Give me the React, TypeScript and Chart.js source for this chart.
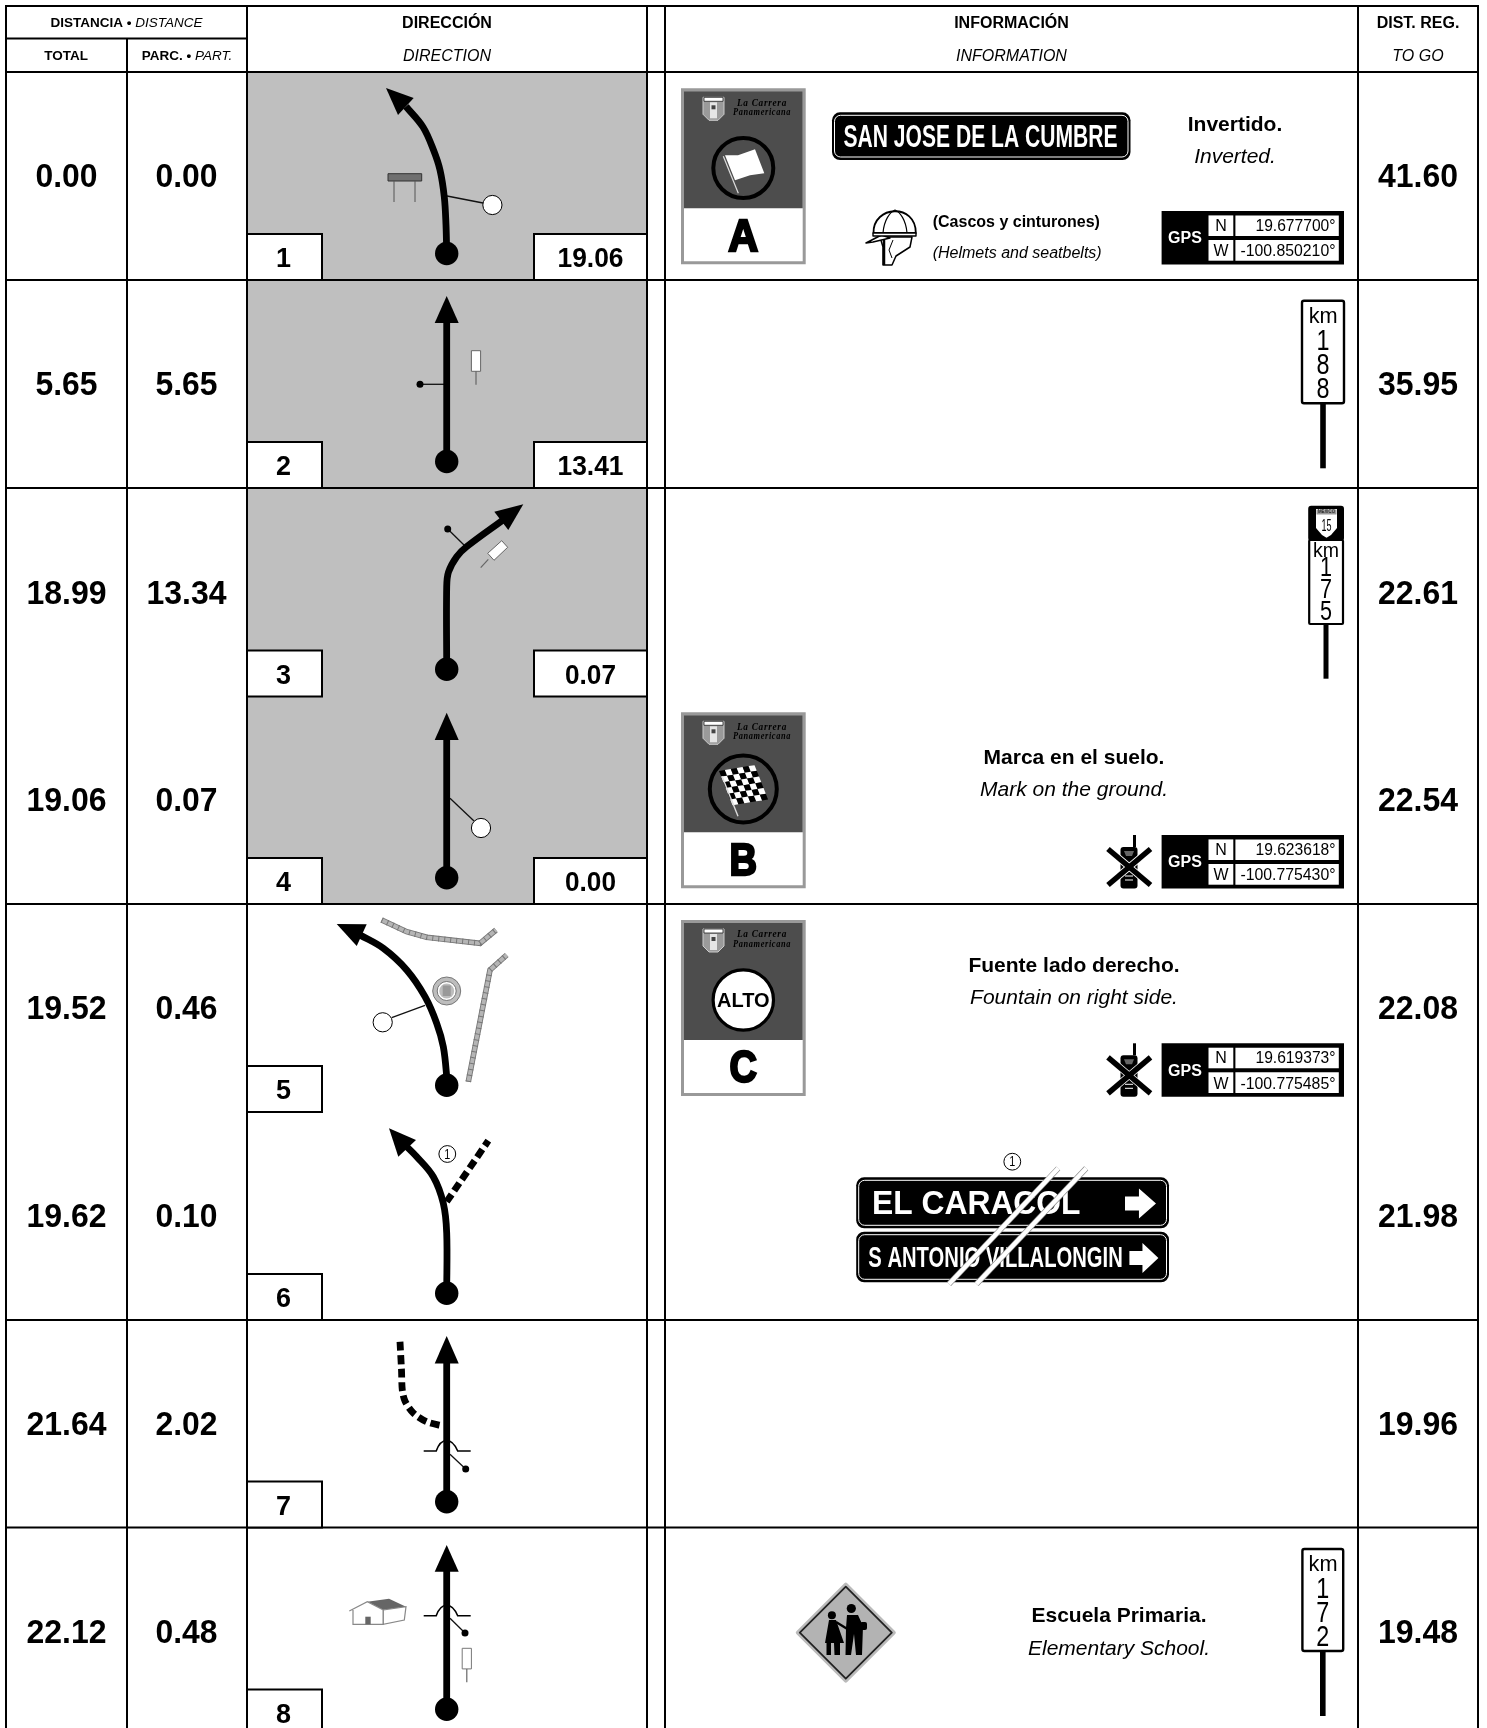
import React, { useEffect, useRef } from "react";
import { Chart, registerables } from "chart.js";

Chart.register(...registerables);

const SANS = '"Liberation Sans", Arial, sans-serif';

// ---------- table content ----------
const totals = [0.0, 5.65, 18.99, 19.06, 19.52, 19.62, 21.64, 22.12];
const partials = [0.0, 5.65, 13.34, 0.07, 0.46, 0.1, 2.02, 0.48];
const toGo = [41.6, 35.95, 22.61, 22.54, 22.08, 21.98, 19.96, 19.48];
const nextDistances = [19.06, 13.41, 0.07, 0.0];
const columnEdges = [6, 127, 247, 647, 665, 1358, 1478];
const rowBottoms = [280, 488, 696.5, 904, 1112, 1320, 1527.5, 1735.5];

// ---------- route diagrams (scale units) ----------
const routeStarts = [
  { x: 446.7, y: 253.5 }, { x: 446.7, y: 461.5 }, { x: 446.7, y: 669.3 }, { x: 446.7, y: 877.7 },
  { x: 446.7, y: 1085.3 }, { x: 446.7, y: 1293.3 }, { x: 446.7, y: 1501.7 }, { x: 446.7, y: 1709.3 },
];
const routePaths = [
  [[446.7, 253.5], [446, 225], [444.3, 197], [440, 170], [433.5, 150], [423, 127], [406, 106.5]],
  [[446.7, 461.5], [446.7, 322]],
  [[446.7, 669.3], [446.7, 586.7], [448.5, 572], [456.7, 556.7], [466.7, 546.7], [503, 520]],
  [[446.7, 877.7], [446.7, 739]],
  [[446.7, 1085.3], [446.7, 1076.7], [443.3, 1046.7], [436.7, 1023.3], [425, 996.7], [406.7, 970], [383.3, 948.3], [360, 935]],
  [[446.7, 1293.3], [446.7, 1233], [443.3, 1203.3], [433.3, 1176.7], [416.7, 1156.7], [403.3, 1143.3]],
  [[446.7, 1501.7], [446.7, 1362]],
  [[446.7, 1709.3], [446.7, 1570]],
];
const arrowHeads = [
  [[386, 88], [413.7, 98], [398, 115]],
  [[446.7, 296], [458.7, 323], [434.7, 323]],
  [[523.3, 504.3], [494.3, 511.7], [508.3, 530]],
  [[446.7, 712.7], [458.7, 740], [434.7, 740]],
  [[336.7, 924], [366.7, 924.3], [356.7, 946]],
  [[389, 1128.3], [416, 1140], [398.3, 1156.7]],
  [[446.7, 1336], [458.7, 1363.5], [434.7, 1363.5]],
  [[446.7, 1545], [458.7, 1571.7], [434.7, 1571.7]],
];
const dashedPaths = [
  [[446.7, 1201.7], [488.3, 1140.7]],
  [[400, 1341.7], [401.5, 1370], [402.3, 1390], [405, 1401], [413.3, 1413], [426.7, 1421.7], [443.3, 1426]],
];
const curbPaths = [
  [[381.7, 920], [406.7, 931.7], [426.7, 937.3], [480, 943.3], [496, 930]],
  [[468.3, 1081.7], [490, 970], [506.7, 955]],
];
const connectors = [
  [[447, 196], [483, 203]],
  [[420, 384.3], [444, 384.3]],
  [[447.7, 529], [465, 546]],
  [[450, 798.3], [474, 821]],
  [[391.7, 1017.7], [425, 1005.3]],
  [[450, 1454.3], [465.7, 1469]],
  [[450, 1618.3], [465, 1633]],
];
const whiteMarkers = [[492.4, 205], [481, 828], [382.7, 1022.3]];
const blackMarkers = [[420, 384.3], [447.7, 529], [465.7, 1469], [465, 1633]];
const bumps = [[446.7, 1451], [446.7, 1615.7]];
const stakes = [[476, 350.7], [466.8, 1648.3]];

// ---------- info column ----------
const cards = [
  { letter: "A", top: 88.3, icon: "flag" },
  { letter: "B", top: 712.3, icon: "checker" },
  { letter: "C", top: 920, icon: "alto" },
];
const gpsRows = [
  { top: 211, n: "19.677700°", w: "-100.850210°" },
  { top: 835, n: "19.623618°", w: "-100.775430°" },
  { top: 1043.3, n: "19.619373°", w: "-100.775485°" },
];
const notes = [
  { es: "Invertido.", en: "Inverted.", x: 1235, y1: 125.5, y2: 157 },
  { es: "Marca en el suelo.", en: "Mark on the ground.", x: 1074, y1: 758.5, y2: 790 },
  { es: "Fuente lado derecho.", en: "Fountain on right side.", x: 1074, y1: 966.5, y2: 998.5 },
  { es: "Escuela Primaria.", en: "Elementary School.", x: 1119, y1: 1616.5, y2: 1649 },
];
const kmPosts = [
  { digits: ["1", "8", "8"], x0: 1302, x1: 1344, top: 300.7, bottom: 403.3, end: 468.3 },
  { digits: ["1", "7", "2"], x0: 1302.4, x1: 1343.2, top: 1549, bottom: 1651, end: 1716 },
];
const signs = [
  { text: "SAN JOSE DE LA CUMBRE", x0: 832, x1: 1130.5, y0: 112.3, y1: 160, tx: 843.5, tw: 274, font: "bold 31px", arrow: null },
  { text: "EL CARACOL", x0: 856.2, x1: 1169, y0: 1177.3, y1: 1228.3, tx: 872, tw: 208.5, font: "bold 33px", arrow: [1125, 1156, 1203.5] },
  { text: "S ANTONIO VILLALONGIN", x0: 856.2, x1: 1169, y0: 1231.7, y1: 1282.3, tx: 868.3, tw: 254.5, font: "bold 30px", arrow: [1129.4, 1158.4, 1258] },
];
const strikes = [
  [[949, 1284], [1058.2, 1168.3]],
  [[976.5, 1284], [1086.2, 1168.3]],
];

const toXY = (p: number[][]) => p.map(([x, y]) => ({ x, y }));

const lineBase = { pointRadius: 0, fill: false, showLine: true, clip: false as any };

function tablePlugin() {
  let X: (v: number) => number;
  let Y: (v: number) => number;
  let c: CanvasRenderingContext2D;

  const text = (s: string, x: number, y: number, font: string, align: CanvasTextAlign = "center", color = "#000", maxW?: number) => {
    c.font = `${font} ${SANS}`;
    c.fillStyle = color;
    c.textAlign = align;
    c.textBaseline = "middle";
    if (maxW) c.fillText(s, X(x), Y(y), maxW);
    else c.fillText(s, X(x), Y(y));
  };
  const poly = (pts: number[][], fill?: string, stroke?: string, lw = 1, close = true) => {
    c.beginPath();
    pts.forEach(([x, y], i) => (i ? c.lineTo(X(x), Y(y)) : c.moveTo(X(x), Y(y))));
    if (close) c.closePath();
    if (fill) { c.fillStyle = fill; c.fill(); }
    if (stroke) { c.strokeStyle = stroke; c.lineWidth = lw; c.stroke(); }
  };
  const rect = (x0: number, y0: number, x1: number, y1: number, fill?: string, stroke?: string, lw = 1, r = 0) => {
    c.beginPath();
    c.roundRect(X(x0), Y(y0), X(x1) - X(x0), Y(y1) - Y(y0), r);
    if (fill) { c.fillStyle = fill; c.fill(); }
    if (stroke) { c.strokeStyle = stroke; c.lineWidth = lw; c.stroke(); }
  };
  const circle = (x: number, y: number, r: number, fill?: string, stroke?: string, lw = 1) => {
    c.beginPath();
    c.arc(X(x), Y(y), r, 0, Math.PI * 2);
    if (fill) { c.fillStyle = fill; c.fill(); }
    if (stroke) { c.strokeStyle = stroke; c.lineWidth = lw; c.stroke(); }
  };
  const circledOne = (x: number, y: number) => {
    circle(x, y, 8.4, "#fff", "#000", 1);
    text("1", x, y + 0.8, "14px", "center", "#000", 6);
  };

  const spans = (parts: [string, string][], cx: number, y: number) => {
    c.textBaseline = "middle";
    c.textAlign = "left";
    c.fillStyle = "#000";
    let w = 0;
    parts.forEach(([s, f]) => { c.font = `${f} ${SANS}`; w += c.measureText(s).width; });
    let x = X(cx) - w / 2;
    parts.forEach(([s, f]) => {
      c.font = `${f} ${SANS}`;
      c.fillText(s, x, Y(y));
      x += c.measureText(s).width;
    });
  };

  const drawGrid = () => {
    const [e0, e1, e2, e3, , , e6] = columnEdges;
    rect(0, 0, 1487, 1728, "#fff");
    rect(e2, 72, e3, rowBottoms[3], "#bfbfbf");
    const v = (x: number, y0: number, y1: number) => rect(x - 1, y0, x + 1, y1, "#000");
    const h = (x0: number, x1: number, y: number) => rect(x0, y - 1, x1, y + 1, "#000");
    columnEdges.forEach((x) => v(x, x === e1 ? 38 : 5, 1728));
    h(e0 - 1, e6 + 1, 6);
    h(e0, e2, 38.5);
    h(e0 - 1, e6 + 1, 72);
    [0, 1, 3, 5, 6].forEach((i) => h(e0 - 1, e6 + 1, rowBottoms[i]));
  };

  const drawHeader = () => {
    spans([["DISTANCIA", "bold 13.5px"], [" • ", "bold 13.5px"], ["DISTANCE", "italic 13.5px"]], 126.5, 23);
    text("TOTAL", 66, 56, "bold 13.5px");
    spans([["PARC.", "bold 13.5px"], [" • ", "bold 13.5px"], ["PART.", "italic 13.5px"]], 187, 56);
    text("DIRECCIÓN", 447, 23.8, "bold 16px");
    text("DIRECTION", 447, 56.8, "italic 16px");
    text("INFORMACIÓN", 1011.5, 23.8, "bold 16px");
    text("INFORMATION", 1011.5, 56.8, "italic 16px");
    text("DIST. REG.", 1418, 23.8, "bold 16px");
    text("TO GO", 1418, 56.8, "italic 16px");
  };

  const drawRowsText = () => {
    rowBottoms.forEach((b, i) => {
      const cy = b - 102;
      const numW = (v: number) => (v >= 10 ? 80 : 62);
      text(totals[i].toFixed(2), 66.5, cy, "bold 34px", "center", "#000", numW(totals[i]));
      text(partials[i].toFixed(2), 186.5, cy, "bold 34px", "center", "#000", numW(partials[i]));
      text(toGo[i].toFixed(2), 1418, cy, "bold 34px", "center", "#000", numW(toGo[i]));
      rect(247, b - 46, 322, b, "#fff", "#000", 2);
      text(String(i + 1), 283.5, b - 20.5, "bold 28px", "center", "#000", 15);
      if (i < nextDistances.length) {
        const w = nextDistances[i] >= 10 ? 66 : 51;
        rect(534, b - 46, 647, b, "#fff", "#000", 2);
        text(nextDistances[i].toFixed(2), 590.5, b - 20.5, "bold 28px", "center", "#000", w);
      }
    });
  };

  const drawHeads = () => {
    arrowHeads.forEach((h) => poly(h, "#000"));
  };

  const drawBump = ([x, y]: number[]) => {
    c.strokeStyle = "#000";
    c.lineWidth = 1.6;
    c.beginPath();
    c.moveTo(X(x - 23), Y(y));
    c.lineTo(X(x - 10.5), Y(y));
    c.bezierCurveTo(X(x - 8), Y(y - 7), X(x - 5), Y(y - 10.5), X(x), Y(y - 10.5));
    c.bezierCurveTo(X(x + 5), Y(y - 10.5), X(x + 8), Y(y - 7), X(x + 11), Y(y));
    c.lineTo(X(x + 24), Y(y));
    c.stroke();
  };

  const drawScenery = () => {
    // table, row 1
    rect(388, 173.7, 421.7, 181, "#6f6f6f", "#333", 1);
    poly([[394, 181], [394, 202]], undefined, "#555", 1, false);
    poly([[415, 181], [415, 202]], undefined, "#555", 1, false);
    // stakes
    stakes.forEach(([x, y], i) => {
      rect(x - 4.6, y, x + 4.6, y + 20.6, "#fff", i ? "#777" : "#666", 1);
      poly([[x, y + 20.6], [x, y + 34]], undefined, "#666", 1.2, false);
    });
    poly([[487.7, 553.3], [501.7, 540.7], [507.7, 547.3], [494, 560.3]], "#fff", "#666", 1);
    poly([[488.3, 559.3], [480.7, 567.7]], undefined, "#666", 1.2, false);
    // fountain, row 5
    circle(446.7, 991, 14, "#bdbdbd", "#777", 1);
    circle(446.7, 991, 9.5, "#fff", "#777", 1);
    circle(446.7, 991, 7.5, "#bdbdbd");
    rect(442.7, 985.5, 450.7, 996, "#999");
    // house, row 8
    poly([[367.3, 1601.7], [389, 1598.7], [406, 1606.7], [383.3, 1610]], "#666");
    poly([[349.3, 1611], [367.3, 1601.7], [383.3, 1610], [383.3, 1624.3], [353, 1624.3], [353, 1610]], "#fff", "#888", 1.2, false);
    poly([[383.3, 1610], [406, 1606.7], [404.3, 1620], [383.3, 1624.3]], "#fff", "#888", 1.2);
    rect(365.3, 1616.7, 370.7, 1624.3, "#666");
    // circled 1 on row 6
    circledOne(447.3, 1154);
    bumps.forEach(drawBump);
  };

  const drawCard = (card: (typeof cards)[number]) => {
    const { top, letter, icon } = card;
    const l = 681, r = 805.7, bot = top + 176;
    rect(l + 1.5, top + 1.5, r - 1.5, bot - 1.5, "#fff", "#999", 3);
    rect(l + 3, top + 3, r - 3, top + 120, "#4d4d4d");
    // logo
    poly([[703, top + 9], [724, top + 9], [724, top + 26], [718, top + 32], [709, top + 32], [703, top + 26]], "#9a9a9a", "#ccc", 1);
    rect(704, top + 9, 723, top + 13, "#fff", "#222", 0.8);
    rect(710, top + 14, 717, top + 30, "#e5e5e5");
    rect(711.5, top + 17, 715.5, top + 21, "#444");
    c.font = `italic bold 10.5px "Liberation Serif", serif`;
    c.fillStyle = "#000";
    c.textAlign = "center";
    c.textBaseline = "middle";
    (c as any).letterSpacing = "0.8px";
    c.fillText("La Carrera", X(762), Y(top + 14.5), 50);
    c.fillText("Panamericana", X(762), Y(top + 24), 58);
    (c as any).letterSpacing = "0px";
    const cx = 743.3;
    if (icon === "flag") {
      circle(cx, top + 79.7, 30, undefined, "#000", 4);
      poly([[725, top + 67], [738, top + 67], [755, top + 61], [764.3, top + 85], [750, top + 87], [735, top + 92]], "#fff");
      poly([[723.3, top + 68], [738.3, top + 105]], undefined, "#ddd", 1.2, false);
    } else if (icon === "checker") {
      const cy = top + 76.7;
      circle(cx, cy, 33.5, undefined, "#000", 4);
      c.save();
      c.translate(X(744.5), Y(cy - 4));
      c.rotate(-0.16);
      c.transform(1, 0, 0.22, 1, 0, 0);
      const s = 6;
      for (let i = -3; i < 3; i++) {
        for (let j = -3; j < 3; j++) {
          c.fillStyle = (i + j + 6) % 2 ? "#fff" : "#000";
          c.fillRect(i * s - 1, j * s, s, s);
        }
      }
      c.restore();
      poly([[722, top + 64], [738, top + 104]], undefined, "#ddd", 1.4, false);
    } else {
      circle(cx, top + 80, 30.2, "#fff", "#000", 3.2);
      text("ALTO", cx, top + 81.5, "bold 20px");
    }
    c.font = `bold 45px ${SANS}`;
    c.textAlign = "center";
    c.textBaseline = "middle";
    c.fillStyle = "#000";
    c.strokeStyle = "#000";
    c.lineWidth = 2.4;
    c.lineJoin = "miter";
    const lw = letter === "A" ? 30 : 27.5;
    c.strokeText(letter, X(cx), Y(top + 150), lw);
    c.fillText(letter, X(cx), Y(top + 150), lw);
  };

  const drawGps = (g: (typeof gpsRows)[number]) => {
    const t = g.top;
    rect(1161.6, t, 1344, t + 53.5, "#000");
    text("GPS", 1185, t + 28, "bold 16px", "center", "#fff");
    rect(1208.5, t + 4.4, 1233.3, t + 25, "#fff");
    rect(1235.4, t + 4.4, 1338.8, t + 25, "#fff");
    rect(1208.5, t + 29, 1233.3, t + 49.7, "#fff");
    rect(1235.4, t + 29, 1338.8, t + 49.7, "#fff");
    text("N", 1221, t + 15.5, "16px", "center", "#000", 12);
    text("W", 1221, t + 41, "16px", "center", "#000", 15);
    text(g.n, 1335.5, t + 15.5, "16px", "right", "#000", 80);
    text(g.w, 1335.5, t + 41, "16px", "right", "#000", 95);
  };

  const drawNoPhone = (t: number) => {
    const cx = 1129;
    poly([[1134.5, t], [1134.5, t + 12]], undefined, "#000", 3, false);
    rect(cx - 8.5, t + 12, cx + 8.5, t + 53.5, "#000", undefined, 1, 3);
    poly([[1108, t + 14], [1150.5, t + 50]], undefined, "#fff", 7, false);
    poly([[1150.5, t + 14], [1108, t + 50]], undefined, "#fff", 7, false);
    poly([[1108, t + 14], [1150.5, t + 50]], undefined, "#000", 5.5, false);
    poly([[1150.5, t + 14], [1108, t + 50]], undefined, "#000", 5.5, false);
    poly([[cx - 4, t + 41], [cx + 4, t + 41]], undefined, "#fff", 1, false);
    poly([[cx - 4, t + 45], [cx + 4, t + 45]], undefined, "#fff", 1, false);
    poly([[cx - 5, t + 16], [cx + 5, t + 16], [cx + 3, t + 21], [cx - 3, t + 21]], "#666");
  };

  const drawHelmet = () => {
    c.lineJoin = "round";
    // neck and chin
    poly([[880, 237], [912, 237], [910, 247], [896, 256], [892, 265], [883, 265], [883, 247]], "#fff", "#000", 1.5);
    poly([[884, 240], [884, 265]], undefined, "#000", 2.5, false);
    poly([[893, 240], [889, 250], [892, 258]], undefined, "#000", 1, false);
    // visor
    poly([[866, 243], [881.5, 235], [890, 238], [873, 242]], "#fff", "#000", 1.5);
    // dome
    c.beginPath();
    c.moveTo(X(873.5), Y(233));
    c.bezierCurveTo(X(873), Y(205), X(916), Y(203), X(915.8), Y(233));
    c.closePath();
    c.fillStyle = "#fff";
    c.fill();
    c.strokeStyle = "#000";
    c.lineWidth = 1.8;
    c.stroke();
    c.lineWidth = 1.2;
    c.beginPath();
    c.moveTo(X(883), Y(233));
    c.bezierCurveTo(X(884), Y(220), X(890), Y(212), X(895), Y(210));
    c.bezierCurveTo(X(900), Y(212), X(906), Y(220), X(907), Y(233));
    c.stroke();
    poly([[873, 233], [916, 233], [916, 236], [873, 236]], "#fff", "#000", 1.4);
  };

  const drawKmDigits = (p: (typeof kmPosts)[number]) => {
    const cx = (p.x0 + p.x1) / 2;
    rect(cx - 2.8, p.bottom, cx + 2.8, p.end, "#000");
    rect(p.x0, p.top, p.x1, p.bottom, "#fff", "#000", 2.4, 2);
    text("km", cx + 0.2, p.top + 16, "22px", "center", "#000", 29);
    const step = (p.bottom - p.top) * 0.237;
    p.digits.forEach((d, i) => text(d, cx, p.top + 41 + i * step, "29px", "center", "#000", 13));
  };

  const drawKmShield = () => {
    const cx = 1326;
    rect(cx - 2.5, 624, cx + 2.5, 678.7, "#000");
    rect(1308.2, 505.7, 1344, 541, "#000", undefined, 1, 3);
    rect(1309.2, 540, 1343, 624, "#fff", "#000", 2.2, 1);
    poly([[1316, 509], [1337, 509], [1337, 528], [1331, 535], [1326.5, 537.7], [1322, 535], [1316, 528]], "#fff");
    rect(1316.5, 509.5, 1336.5, 514.5, "#999");
    text("MEXICO", 1326.5, 512.2, "4.5px", "center", "#000", 17);
    text("15", 1326.5, 526, "17px", "center", "#000", 10);
    text("km", 1326, 551, "20px", "center", "#000", 26);
    ["1", "7", "5"].forEach((d, i) => text(d, 1326, 568.5 + i * 21.7, "28px", "center", "#000", 12));
  };

  const drawBlockArrow = (x0: number, x1: number, cy: number) => {
    const mid = x0 + (x1 - x0) * 0.45;
    const pts = [
      [x0, cy - 7], [mid, cy - 7], [mid, cy - 15], [x1, cy], [mid, cy + 15], [mid, cy + 7], [x0, cy + 7],
    ];
    poly(pts, "#fff");
  };

  const drawSign = (s: (typeof signs)[number]) => {
    rect(s.x0, s.y0, s.x1, s.y1, "#000", undefined, 1, 8);
    rect(s.x0 + 2.5, s.y0 + 3, s.x1 - 2.5, s.y1 - 3, undefined, "#fff", 1, 6);
    text(s.text, s.tx, (s.y0 + s.y1) / 2 + 2, s.font, "left", "#fff", s.tw);
    if (s.arrow) drawBlockArrow(s.arrow[0], s.arrow[1], s.arrow[2]);
  };

  const drawSchool = () => {
    const cx = 845.8, cy = 1632.7, h = 48;
    c.lineJoin = "round";
    poly([[cx, cy - h], [cx + h, cy], [cx, cy + h], [cx - h, cy]], "#b3b3b3", "#bbb", 4);
    poly([[cx, cy - h + 2], [cx + h - 2, cy], [cx, cy + h - 2], [cx - h + 2, cy]], "#b3b3b3", "#222", 1.8);
    circle(851.3, 1608.5, 4.6, "#000");
    circle(831.9, 1615.2, 4, "#000");
    poly([[847, 1615], [858, 1615], [863, 1626], [862, 1655], [856, 1655], [854, 1634], [851, 1655], [845.5, 1655], [846, 1628]], "#000");
    rect(860, 1622, 867, 1630, "#000", undefined, 1, 2);
    poly([[829, 1620], [836, 1620], [844, 1643], [840, 1643], [840, 1655], [834.5, 1655], [834, 1643], [831, 1643], [831, 1655], [826.5, 1655], [826.5, 1643], [825, 1643]], "#000");
    poly([[836, 1622], [849, 1630]], undefined, "#000", 2.5, false);
  };

  return {
    id: "roadbook",
    beforeDatasetsDraw(chart: any) {
      c = chart.ctx;
      X = (v) => chart.scales.x.getPixelForValue(v);
      Y = (v) => chart.scales.y.getPixelForValue(v);
      c.save();
      drawGrid();
      c.restore();
    },
    afterDatasetsDraw() {
      c.save();
      drawHeads();
      drawScenery();
      drawHeader();
      drawRowsText();
      cards.forEach(drawCard);
      gpsRows.forEach(drawGps);
      [gpsRows[1].top, gpsRows[2].top].forEach(drawNoPhone);
      drawHelmet();
      text("(Cascos y cinturones)", 932.7, 222.3, "bold 16px", "left");
      text("(Helmets and seatbelts)", 932.7, 254, "italic 16px", "left");
      notes.forEach((n) => {
        text(n.es, n.x, n.y1, "bold 21px");
        text(n.en, n.x, n.y2, "italic 21px");
      });
      kmPosts.forEach(drawKmDigits);
      drawKmShield();
      signs.forEach(drawSign);
      strikes.forEach((s) => {
        poly(s, undefined, "#888", 5.6, false);
        poly(s, undefined, "#fff", 4.4, false);
      });
      circledOne(1012.3, 1161.7);
      drawSchool();
      c.restore();
    },
  };
}

export default function App() {
  const ref = useRef<HTMLCanvasElement>(null);
  useEffect(() => {
    document.body.style.margin = "0";
    const datasets: any[] = [
      {
        ...lineBase, label: "dots", showLine: false, data: routeStarts,
        pointRadius: 11.7, pointBackgroundColor: "#000", pointBorderWidth: 0,
      },
      {
        ...lineBase, label: "white markers", showLine: false, data: toXY(whiteMarkers),
        pointRadius: 9.6, pointBackgroundColor: "#fff", pointBorderColor: "#000", pointBorderWidth: 1,
      },
      {
        ...lineBase, label: "black markers", showLine: false, data: toXY(blackMarkers),
        pointRadius: 3.5, pointBackgroundColor: "#000", pointBorderWidth: 0,
      },
      ...routePaths.map((p, i) => ({
        ...lineBase, label: `route ${i + 1}`, data: toXY(p),
        borderColor: "#000", borderWidth: 6.8, tension: 0.35, borderCapStyle: "butt",
      })),
      ...dashedPaths.map((p, i) => ({
        ...lineBase, label: `track ${i + 1}`, data: toXY(p),
        borderColor: "#000", borderWidth: 6.8, borderDash: [9, 4.5], tension: 0.3,
      })),
      ...connectors.map((p, i) => ({
        ...lineBase, label: `note ${i + 1}`, data: toXY(p), borderColor: "#111", borderWidth: 1.3,
      })),
      ...curbPaths.map((p, i) => ({
        ...lineBase, label: `curb ties ${i + 1}`, data: toXY(p), borderColor: "#777", borderWidth: 5.6, borderDash: [1, 5], tension: 0,
      })),
      ...curbPaths.map((p, i) => ({
        ...lineBase, label: `curb top ${i + 1}`, data: toXY(p), borderColor: "#b5b5b5", borderWidth: 3.8, tension: 0,
      })),
      ...curbPaths.map((p, i) => ({
        ...lineBase, label: `curb ${i + 1}`, data: toXY(p), borderColor: "#777", borderWidth: 5.6, tension: 0,
      })),
    ];
    const chart = new Chart(ref.current as HTMLCanvasElement, {
      type: "line",
      data: { datasets },
      options: {
        animation: false,
        responsive: false,
        devicePixelRatio: 1,
        layout: { padding: 0, autoPadding: false },
        plugins: { legend: { display: false }, tooltip: { enabled: false }, title: { display: false } },
        events: [],
        scales: {
          x: { type: "linear", min: 0, max: 1487, display: false },
          y: { type: "linear", min: 0, max: 1728, reverse: true, display: false },
        },
      } as any,
      plugins: [tablePlugin() as any],
    });
    return () => chart.destroy();
  }, []);
  return <canvas ref={ref} width={1487} height={1728} style={{ display: "block" }} />;
}
